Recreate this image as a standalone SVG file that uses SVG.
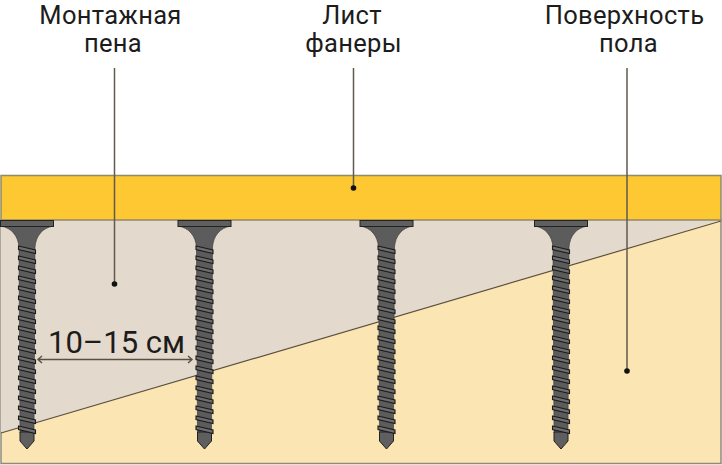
<svg xmlns="http://www.w3.org/2000/svg" width="722" height="465" viewBox="0 0 722 465">
<style>
text{font-family:Roboto,"Liberation Sans",sans-serif;font-size:25.500px;letter-spacing:.3px;fill:#1c1c1c;text-anchor:middle}
.lead{stroke:#5f594f;stroke-width:1.500;fill:none}
.dot{fill:#111}
.th{stroke:#1c1c1c;stroke-width:1.100;fill:#6e6e6e}
</style>
<defs>
<path id="th" class="th" d="M-8.500 246L8.500 250V253.500L-8.500 249.500Z"/>
<g id="screw">
<path d="M-26.500 226C-15 228 -9 236 -8 247L-7 433H7L8 247C9 236 15 228 26.500 226Z" fill="#5c5c5c" stroke="#333" stroke-width=".6"/>
<rect x="-26.500" y="220.500" width="53" height="6" fill="#5f5f5f" stroke="#222" stroke-width="1"/>
<path d="M-7 432V441L0 449L7 441V432Z" fill="#5f5f5f" stroke="#222" stroke-width="1"/>
<use href="#th"/><use href="#th" y="10"/><use href="#th" y="20"/><use href="#th" y="30"/><use href="#th" y="40"/><use href="#th" y="50"/><use href="#th" y="60"/><use href="#th" y="70"/><use href="#th" y="80"/><use href="#th" y="90"/><use href="#th" y="100"/><use href="#th" y="110"/><use href="#th" y="120"/><use href="#th" y="130"/><use href="#th" y="140"/><use href="#th" y="150"/><use href="#th" y="160"/><use href="#th" y="170"/><use href="#th" y="180"/>
</g>
</defs>
<rect width="722" height="465" fill="#fff"/>
<g id="floor"><rect x="1" y="220" width="720" height="243.500" fill="#fbe5b3" stroke="#8f8a7e" stroke-width="1.500"/></g>
<g id="foam"><path d="M1 220H721L1 433Z" fill="#e3d9cc"/><path d="M1 433L721 221" fill="none" stroke="#5a5040" stroke-width="1.200"/></g>
<g id="plywood"><rect x="1" y="175.500" width="720" height="44.500" fill="#fec832" stroke="#8f8a6a" stroke-width="1.500"/></g>
<g id="screw1"><use href="#screw" x="27"/></g>
<g id="screw2"><use href="#screw" x="204.500"/></g>
<g id="screw3"><use href="#screw" x="386.500"/></g>
<g id="screw4"><use href="#screw" x="561"/></g>
<g id="connectors">
<path class="lead" d="M114.500 68V284"/>
<path class="lead" d="M353.500 68V188"/>
<path class="lead" d="M627 68V371"/>
<circle class="dot" cx="114.500" cy="284" r="2.800"/>
<circle class="dot" cx="353.500" cy="188" r="2.800"/>
<circle class="dot" cx="627" cy="371" r="2.800"/>
<path d="M38 359.500H192M42 356L38 359.500L42 363M188 356L192 359.500L188 363" fill="none" stroke="#5a5040" stroke-width="1.400"/>
</g>
<g id="label-foam"><text x="110.500" y="23.700">Монтажная</text><text x="113" y="52">пена</text></g>
<g id="label-plywood"><text x="352" y="23.700">Лист</text><text x="353.500" y="52">фанеры</text></g>
<g id="label-floor"><text x="624.500" y="23.700">Поверхность</text><text x="628.500" y="52">пола</text></g>
<g id="label-distance"><text x="116.500" y="353" style="font-size:31px;letter-spacing:0">10–15 см</text></g>
</svg>
